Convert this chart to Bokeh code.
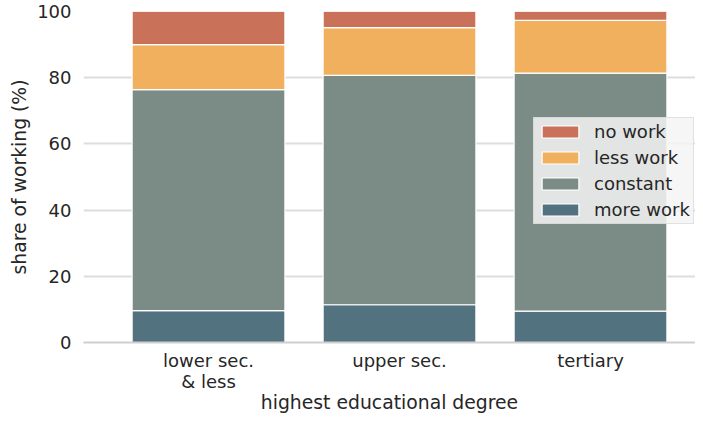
from bokeh.plotting import figure
from bokeh.models import ColumnDataSource, Range1d, FixedTicker, Legend, LegendItem
from bokeh.embed import file_html
from bokeh.resources import INLINE

# ---- data ----
categories = ["lower sec.\n& less", "upper sec.", "tertiary"]
series_names = ["more_work", "constant", "less_work", "no_work"]
series_labels = ["more work", "constant", "less work", "no work"]
more_work = [9.6, 11.4, 9.45]
constant = [66.8, 69.3, 71.95]
less_work = [13.6, 14.4, 15.9]
no_work = [10.0, 4.9, 2.7]
y_ticks = [0, 20, 40, 60, 80, 100]
colors = ["#53727f", "#7b8c86", "#f0b05e", "#c97259"]

FONT = "DejaVu Sans"
FS = "18px"
FSL = "18.8px"
TXT = "#262626"

xpos = list(range(len(categories)))
source = ColumnDataSource(dict(x=xpos, more_work=more_work, constant=constant,
                               less_work=less_work, no_work=no_work))

p = figure(width=695, height=415, output_backend="svg", toolbar_location=None,
           x_range=Range1d(-0.6545, 2.5497), y_range=Range1d(0, 100),
           min_border_left=83, min_border_right=0, min_border_top=11,
           min_border_bottom=69)
p.outline_line_color = None
p.background_fill_color = "white"

renderers = p.vbar_stack(series_names, x="x", width=0.8, color=colors,
                         line_color="white", line_width=1.2, source=source)

# axes
p.xaxis.ticker = FixedTicker(ticks=xpos)
p.xaxis.major_label_overrides = {i: c for i, c in zip(xpos, categories)}
p.yaxis.ticker = FixedTicker(ticks=y_ticks)
for ax in (p.xaxis[0], p.yaxis[0]):
    ax.major_tick_line_color = None
    ax.minor_tick_line_color = None
    ax.major_tick_out = 0
    ax.major_tick_in = 0
    ax.major_label_text_font = FONT
    ax.major_label_text_font_size = FS
    ax.major_label_text_color = TXT
    ax.axis_label_text_font = FONT
    ax.axis_label_text_font_size = FSL
    ax.axis_label_text_color = TXT
    ax.axis_label_text_font_style = "normal"
p.yaxis.axis_line_color = None
p.yaxis.major_label_standoff = 12
p.yaxis.axis_label = "share of working (%)"
p.yaxis.axis_label_standoff = 4
p.xaxis.axis_line_color = "#cfcfcf"
p.xaxis.axis_line_width = 1.8
p.xaxis.major_label_standoff = 7
p.xaxis.major_label_text_line_height = 1.0
p.xaxis.axis_label = "highest educational degree"
p.xaxis.axis_label_standoff = -3

p.xgrid.grid_line_color = None
p.ygrid.grid_line_color = "#dddddd"
p.ygrid.grid_line_width = 1.8

items = [LegendItem(label=lab, renderers=[r])
         for lab, r in zip(series_labels, renderers)][::-1]
legend = Legend(items=items, location=(450, 118), orientation="vertical")
legend.background_fill_color = "#f5f5f5"
legend.background_fill_alpha = 0.85
legend.border_line_color = "#cccccc"
legend.border_line_width = 1
legend.label_text_font = FONT
legend.label_text_font_size = FS
legend.label_text_color = TXT
legend.glyph_width = 46
legend.glyph_height = 15
legend.label_standoff = 11
legend.padding = 3
legend.spacing = 5
legend.margin = 0
p.add_layout(legend, "center")

open("out.html", "w").write(file_html(p, INLINE))
